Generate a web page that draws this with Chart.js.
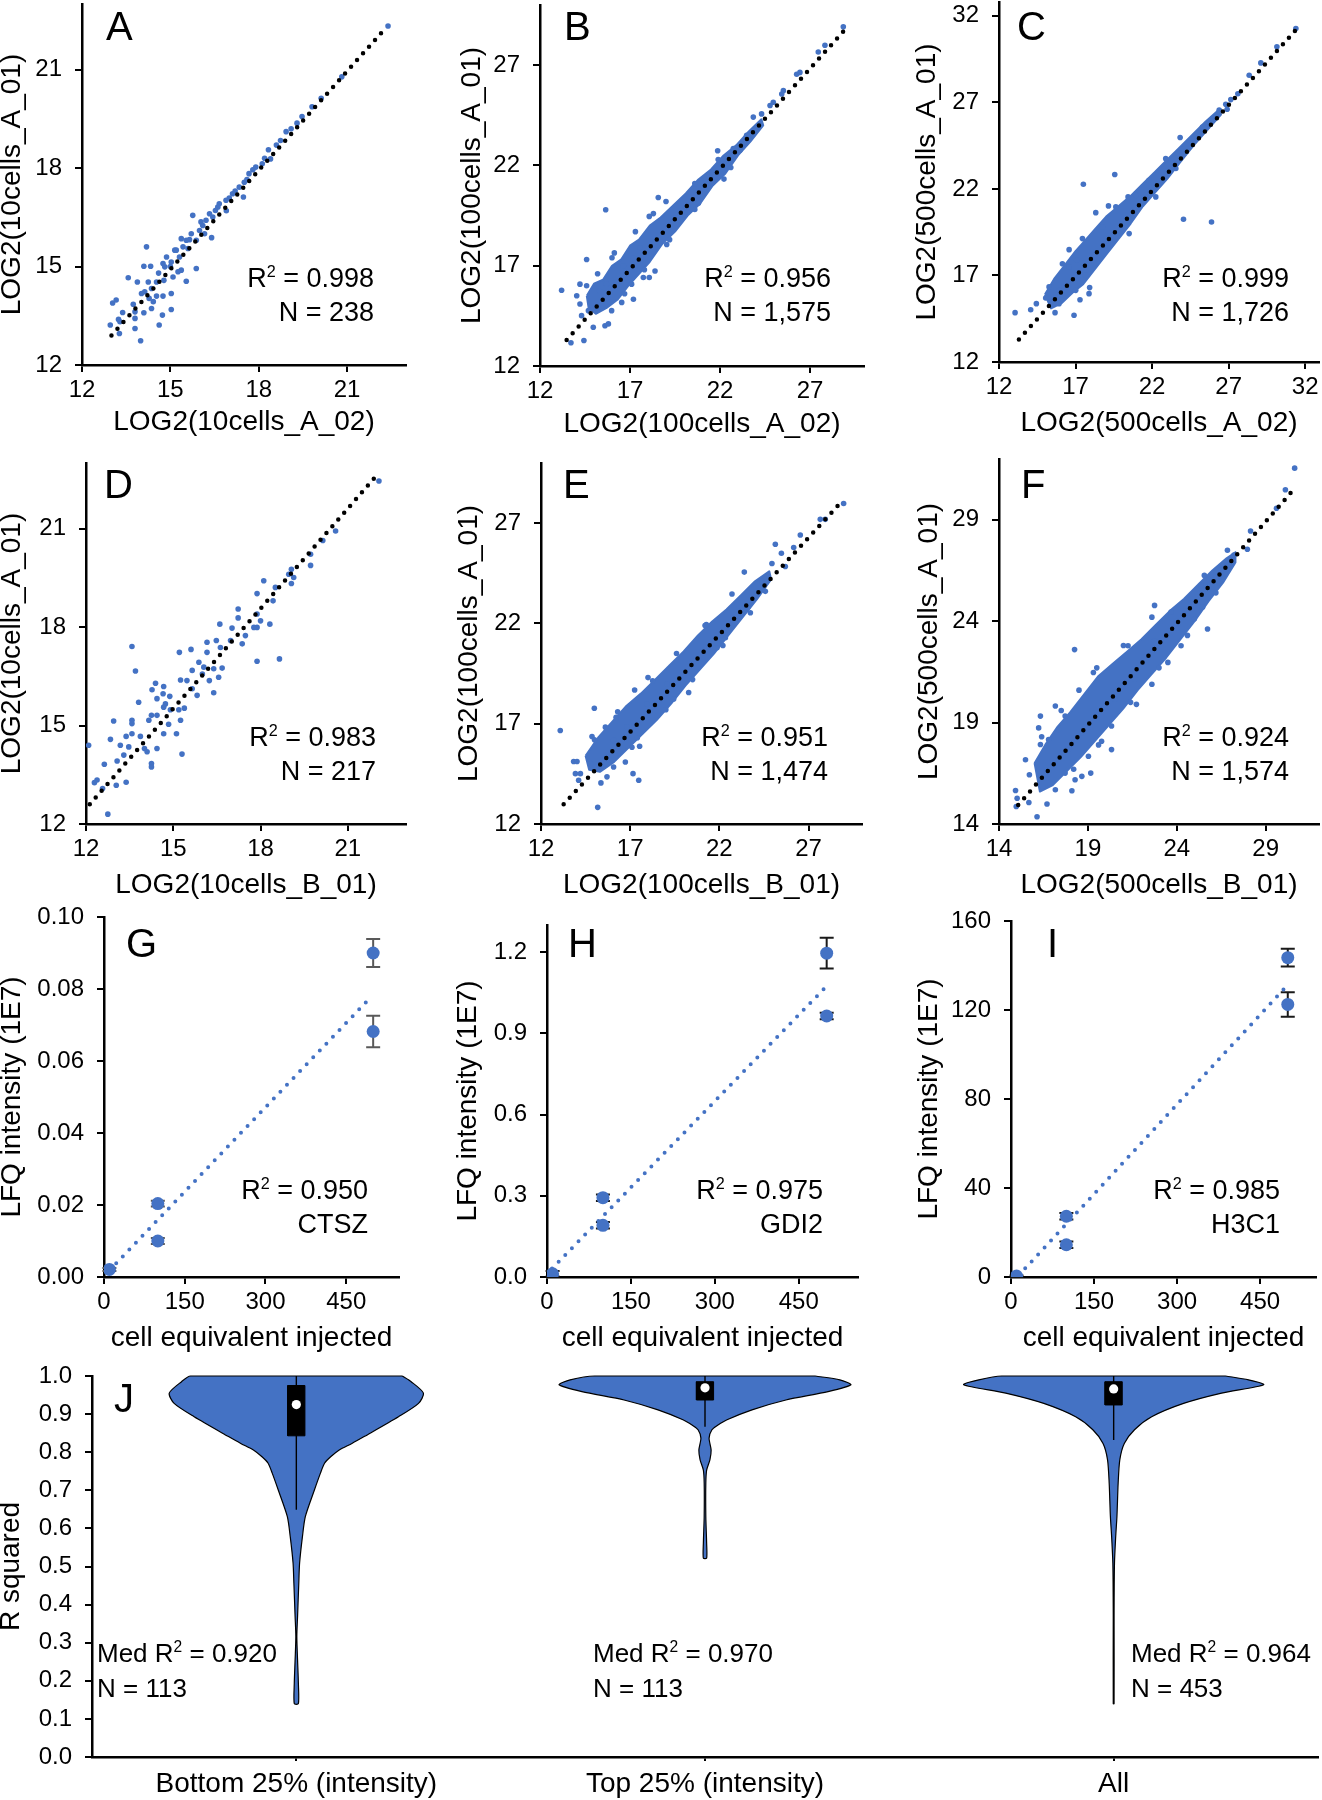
<!DOCTYPE html>
<html>
<head>
<meta charset="utf-8">
<script src="https://cdn.jsdelivr.net/npm/chart.js@4.4.0/dist/chart.umd.min.js"></script>
<style>
  html, body { margin: 0; padding: 0; background: #fff; }
  body { width: 1322px; height: 1800px; position: relative; overflow: hidden;
         font-family: "Liberation Sans", Arial, Helvetica, sans-serif; color: #000; }
  canvas { position: absolute; }
  .lbl { position: absolute; white-space: nowrap; line-height: 1; }
  .sup { font-size: 0.6em; position: relative; top: -0.62em; }
</style>
</head>
<body>
<script>
// ---- data: replicate scatter panels (log2 intensities) ----
const ticksA = [12, 15, 18, 21];
const ticksB = [12, 17, 22, 27];
const ticksC = [12, 17, 22, 27, 32];
const ticksF = [14, 19, 24, 29];

const ptsA = [[22.39,22.33],[20.82,20.78],[20.12,20.13],[19.81,19.87],[19.47,19.57],[19.30,19.37],[18.93,19.11],[18.74,18.84],[18.33,18.56],[18.40,18.28],[18.12,18.13],[17.90,18.03],[17.67,17.83],[17.51,17.57],[17.34,17.42],[17.48,17.12],[17.00,17.09],[16.66,16.91],[16.53,16.71],[16.44,16.51],[16.21,16.41],[15.76,16.56],[15.99,16.10],[16.16,16.00],[16.40,15.88],[15.88,15.80],[15.65,15.82],[15.43,15.60],[15.37,15.85],[15.15,15.50],[15.31,15.29],[15.88,14.94],[15.03,15.14],[14.81,14.99],[14.87,15.29],[14.75,15.09],[14.19,15.60],[14.10,15.01],[14.33,15.01],[15.37,14.89],[15.26,14.84],[15.54,14.55],[15.09,14.68],[14.53,14.53],[14.78,14.58],[14.25,14.53],[13.57,14.66],[13.88,14.53],[14.36,14.33],[14.13,14.23],[14.02,14.18],[14.53,14.10],[14.75,14.10],[15.03,14.18],[14.28,14.03],[14.42,13.93],[14.36,13.72],[14.10,13.59],[15.03,13.69],[14.73,13.52],[13.74,13.85],[13.80,13.62],[13.16,13.98],[13.04,13.89],[13.38,13.60],[13.24,13.39],[13.29,13.32],[13.80,13.42],[12.96,13.22],[13.80,13.11],[13.27,12.96],[14.62,13.22],[13.99,12.74],[17.11,17.22],[16.89,17.02],[16.61,16.81],[16.33,16.61],[16.04,16.36],[15.71,16.00],[15.54,15.80],[15.20,15.50],[17.80,17.95],[18.20,18.30],[17.20,17.30],[16.90,16.70],[16.10,16.25],[15.60,15.55],[15.00,15.00],[14.60,14.80],[18.60,18.70],[19.10,19.20],[17.60,17.65]];
const trendAx = [13.0, 22.3], trendAy = [12.9, 22.26];

const coreB = [[14.6,15.5],[15.0,16.1],[15.5,16.3],[16.0,17.0],[16.5,17.3],[17.0,18.0],[17.5,18.3],[18.1,19.0],[18.7,19.4],[19.4,20.0],[20.1,20.6],[20.8,21.3],[21.5,21.8],[22.2,22.5],[22.9,23.0],[23.6,23.7],[24.3,24.3],[24.4,24.0],[23.7,23.2],[23.0,22.5],[22.3,21.6],[21.6,21.0],[20.9,20.1],[20.2,19.5],[19.5,18.7],[18.8,18.1],[18.1,17.2],[17.5,16.6],[16.9,16.0],[16.3,15.3],[15.7,14.9],[15.1,14.6],[14.7,14.9]];
const ptsB = [[13.20,15.78],[15.65,19.79],[18.57,20.40],[21.87,22.73],[22.22,21.32],[18.07,19.46],[14.59,17.31],[16.13,17.64],[14.22,16.08],[14.59,16.00],[14.04,15.50],[14.22,15.09],[14.69,14.76],[14.96,13.93],[15.61,14.01],[15.80,14.10],[14.44,13.27],[13.72,13.16],[14.31,14.51],[15.15,14.92],[15.98,14.76],[16.54,15.17],[17.19,15.33],[17.09,16.08],[17.74,16.41],[18.07,16.41],[18.39,16.74],[19.04,18.06],[20.80,20.12],[21.54,21.11],[23.11,22.76],[23.85,24.41],[24.31,24.57],[24.78,24.99],[24.96,25.15],[25.43,25.56],[25.52,25.73],[26.26,26.55],[26.44,26.64],[27.46,27.66],[27.83,27.99],[28.85,28.91],[16.63,16.98],[17.19,17.40],[17.56,17.89],[19.41,19.38],[20.15,19.87],[22.56,22.35],[22.74,22.84],[23.48,23.50],[24.04,23.91],[15.30,15.75],[15.70,16.08],[15.2,16.6],[16.0,17.4],[17.3,18.7],[18.3,19.6],[19.0,20.2],[20.6,21.1],[16.7,15.6],[17.8,16.8],[19.2,18.3],[20.6,19.8],[15.9,15.2],[21.9,22.3],[22.6,21.9]];
const trendBx = [13.48, 29.07], trendBy = [13.3, 28.9];

const coreC = [[15.0,15.9],[15.6,16.8],[16.3,17.6],[17.0,18.4],[17.6,19.0],[18.3,19.7],[19.0,20.4],[19.8,21.0],[20.6,21.6],[21.4,22.3],[22.2,23.0],[23.0,23.7],[23.8,24.4],[24.6,25.1],[25.5,25.9],[26.4,26.6],[26.5,26.3],[25.6,25.4],[24.7,24.5],[23.8,23.5],[23.0,22.6],[22.2,21.8],[21.4,21.0],[20.6,20.0],[19.8,19.1],[19.0,18.2],[18.2,17.3],[17.5,16.5],[16.8,16.0],[16.1,15.4],[15.4,15.1]];
const ptsC = [[13.05,14.85],[16.90,14.70],[15.66,14.85],[14.44,15.37],[14.07,15.02],[15.05,15.70],[15.92,15.37],[17.29,15.60],[17.88,15.95],[17.92,16.30],[17.66,17.01],[17.01,16.14],[15.92,16.14],[16.25,16.34],[16.58,18.49],[17.45,19.13],[17.51,22.27],[19.56,22.83],[18.32,20.63],[19.15,21.02],[20.50,19.42],[20.43,21.54],[23.83,24.97],[24.05,20.25],[25.88,20.09],[22.89,23.75],[22.24,21.54],[23.55,23.18],[26.81,26.89],[27.14,27.16],[28.34,28.57],[29.10,29.28],[30.15,30.21],[31.39,31.27],[25.29,25.58],[25.94,26.07],[26.38,26.55],[16.58,17.49],[16.14,17.68],[17.08,17.88],[15.27,16.34],[18.75,19.80],[19.63,20.96],[20.93,21.63],[21.80,22.50],[27.6,27.5],[26.9,26.6]];
const trendCx = [13.3, 31.4], trendCy = [13.3, 31.2];

const ptsD = [[22.07,22.45],[20.58,20.93],[20.14,20.64],[19.72,20.22],[19.72,19.88],[19.06,19.76],[19.06,19.33],[19.14,19.51],[18.97,19.61],[18.11,19.41],[18.51,19.21],[18.43,18.80],[17.88,19.02],[18.32,18.09],[17.88,18.40],[18.00,18.19],[17.23,18.55],[17.23,18.28],[17.88,17.99],[17.77,17.99],[16.60,18.09],[17.02,17.97],[17.48,17.74],[17.37,17.49],[17.88,16.96],[18.65,17.03],[16.16,17.54],[16.48,17.59],[16.62,17.38],[16.97,17.59],[16.16,17.23],[15.61,17.32],[15.21,17.23],[13.58,17.41],[13.70,16.66],[15.88,16.93],[16.05,16.78],[16.39,16.73],[16.68,16.75],[15.65,16.68],[15.47,16.37],[15.25,16.39],[16.00,16.57],[16.24,16.37],[16.56,16.47],[15.82,15.92],[16.39,16.00],[15.65,16.12],[14.39,16.29],[14.67,16.19],[14.27,16.09],[14.44,15.82],[14.65,15.97],[14.88,15.89],[14.73,15.66],[14.67,15.56],[14.90,15.48],[15.19,15.48],[15.38,15.53],[15.25,15.16],[14.84,15.04],[15.11,14.75],[14.67,14.75],[14.16,15.16],[14.25,15.31],[14.44,15.31],[13.81,15.71],[13.58,15.16],[13.58,15.06],[12.95,15.14],[13.58,14.75],[13.38,14.67],[13.18,14.40],[12.84,14.58],[13.87,14.67],[14.01,14.30],[14.10,14.20],[14.44,14.30],[14.25,13.84],[14.25,13.74],[15.30,14.13],[13.47,14.35],[13.30,14.10],[13.07,13.92],[12.63,13.82],[12.09,14.40],[12.38,13.34],[12.29,13.26],[13.04,13.18],[13.38,13.27],[12.75,12.30],[12.57,13.08]];
const trendDx = [12.13, 22.07], trendDy = [12.6, 22.7];

const coreE = [[14.5,15.4],[15.2,16.3],[16.0,17.1],[16.8,17.9],[17.6,18.5],[18.4,19.2],[19.2,19.9],[20.0,20.6],[20.8,21.4],[21.6,22.1],[22.4,22.7],[23.2,23.4],[24.0,24.1],[24.8,24.6],[24.9,24.2],[24.1,23.2],[23.3,22.3],[22.5,21.4],[21.7,20.5],[20.9,19.7],[20.1,18.9],[19.3,18.0],[18.5,17.2],[17.7,16.5],[16.9,15.8],[16.1,15.1],[15.3,14.6],[14.7,14.7]];
const ptsE = [[13.08,16.66],[14.99,17.77],[13.83,15.12],[14.02,15.12],[13.93,14.51],[14.21,14.51],[14.11,14.18],[14.77,15.01],[15.18,12.83],[15.36,14.05],[15.70,14.35],[16.07,14.84],[16.73,15.09],[17.16,14.51],[17.48,14.18],[17.10,15.83],[17.53,15.88],[14.86,16.36],[15.61,16.83],[16.21,17.32],[17.25,18.68],[18.26,19.14],[19.44,18.23],[20.28,18.56],[21.27,21.95],[21.87,20.79],[22.34,21.29],[22.71,23.47],[23.40,24.56],[23.74,22.53],[24.58,23.60],[24.95,24.99],[25.14,25.95],[25.48,25.50],[26.17,25.79],[26.54,26.41],[27.66,27.19],[27.94,27.19],[28.97,27.98],[25.70,24.84],[24.39,24.10],[16.07,16.17],[16.82,16.83],[17.94,17.98],[19.07,18.98],[20.56,19.97],[21.68,20.79],[15.0,16.2],[16.3,17.6],[18.0,19.3],[19.6,20.5],[21.2,21.9],[17.4,16.3],[19.0,17.7],[20.5,19.2],[22.2,20.9],[23.6,22.8]];
const trendEx = [13.27, 28.88], trendEy = [12.98, 28.1];

const coreF = [[16.0,17.0],[16.6,17.9],[17.3,18.8],[18.0,19.5],[18.8,20.4],[19.6,21.3],[20.4,21.9],[21.2,22.5],[22.0,23.1],[22.8,23.8],[23.6,24.5],[24.4,25.1],[25.2,25.8],[26.0,26.5],[26.8,27.1],[27.3,27.4],[27.3,26.9],[26.6,25.9],[25.8,25.0],[25.0,24.0],[24.2,23.1],[23.4,22.2],[22.6,21.4],[21.8,20.6],[21.0,19.7],[20.2,18.9],[19.4,18.1],[18.6,17.3],[17.8,16.6],[17.0,15.9],[16.3,15.6]];
const ptsF = [[30.63,31.55],[30.11,30.48],[29.61,29.57],[28.15,28.45],[27.97,27.55],[27.22,27.26],[26.85,27.50],[26.38,26.10],[25.55,26.26],[25.45,24.69],[24.99,24.12],[24.24,22.79],[23.50,21.97],[22.75,23.04],[22.60,20.89],[21.73,19.90],[21.08,20.81],[20.33,17.67],[19.77,18.08],[19.03,17.34],[19.16,16.51],[18.66,16.35],[18.10,15.64],[18.25,22.60],[16.33,19.32],[16.23,18.74],[16.33,17.92],[15.49,17.17],[15.71,16.43],[14.93,15.65],[15.02,15.27],[14.97,14.86],[15.68,15.06],[16.14,14.36],[16.70,14.99],[17.17,15.69],[17.72,16.51],[18.28,16.18],[17.17,19.82],[17.72,19.32],[19.31,21.47],[21.26,22.79],[23.68,24.45],[25.73,23.62],[17.91,17.67],[18.66,18.50],[20.52,20.15],[21.64,21.14],[16.79,18.17],[17.35,18.66],[20.33,18.83],[22.75,24.78],[25.36,25.77],[17.07,16.84],[16.4,18.3],[17.5,19.6],[18.5,20.6],[19.5,21.7],[21.0,22.8],[22.6,24.2],[18.2,16.7],[19.6,17.9],[21.4,20.0],[23.0,21.7],[24.6,23.3],[26.2,25.4]];
const trendFx = [15.08, 30.72], trendFy = [14.94, 30.64];

// ---- data: LFQ intensity vs cell equivalents ----
const cellX = [10, 100, 100, 500, 500];
const ticksCellX = [0, 150, 300, 450];
const lfqG = [0.0021, 0.0204, 0.0100, 0.0900, 0.0682];
const errG = [0.0004, 0.0008, 0.0008, 0.0039, 0.0044];
const trendGx = [10.5, 498], trendGy = [0.0019, 0.0781];
const ticksG = [0, 0.02, 0.04, 0.06, 0.08, 0.10];
const lfqH = [0.012, 0.293, 0.191, 1.196, 0.964];
const errH = [0.01, 0.012, 0.012, 0.057, 0.012];
const trendHx = [9, 498], trendHy = [0.031, 1.07];
const ticksH = [0, 0.3, 0.6, 0.9, 1.2];
const lfqI = [0.4, 27.3, 14.5, 143.5, 122.5];
const errI = [0.3, 1.5, 1.5, 4.0, 5.5];
const trendIx = [14, 502], trendIy = [0.75, 131.8];
const ticksI = [0, 40, 80, 120, 160];

// ---- data: violin panel J ----
const violinCats = ['Bottom 25% (intensity)', 'Top 25% (intensity)', 'All'];
const violinY = [
  [1.0, 0.985, 0.955, 0.928, 0.893, 0.841, 0.823, 0.806, 0.788, 0.771, 0.745, 0.70, 0.631, 0.579, 0.509, 0.456, 0.369, 0.316, 0.255, 0.194, 0.14],
  [1.0, 0.99, 0.977, 0.959, 0.937, 0.911, 0.885, 0.87, 0.859, 0.837, 0.806, 0.78, 0.753, 0.719, 0.631, 0.561, 0.522],
  [1.0, 0.99, 0.977, 0.955, 0.928, 0.893, 0.859, 0.823, 0.78, 0.719, 0.631, 0.579, 0.509, 0.369, 0.14]
];
const violinHalfW = [
  [0.259, 0.281, 0.311, 0.299, 0.250, 0.166, 0.136, 0.105, 0.084, 0.069, 0.059, 0.044, 0.022, 0.015, 0.008, 0.006, 0.003, 0.0012, 0.003, 0.005, 0.005],
  [0.27, 0.33, 0.357, 0.301, 0.198, 0.115, 0.054, 0.03, 0.017, 0.010, 0.015, 0.012, 0.004, 0.002, 0.002, 0.004, 0.004],
  [0.274, 0.33, 0.367, 0.264, 0.171, 0.093, 0.051, 0.026, 0.015, 0.011, 0.008, 0.005, 0.002, 0.001, 0.001]
];
const boxQ1 = [0.843, 0.937, 0.924];
const boxQ3 = [0.975, 0.985, 0.985];
const medians = [0.925, 0.969, 0.966];
const whiskLow = [0.649, 0.867, 0.832];
const whiskHigh = [1.0, 1.0, 1.0];
const ticksJ = [0, 0.1, 0.2, 0.3, 0.4, 0.5, 0.6, 0.7, 0.8, 0.9, 1.0];

// ---- styling ----
const FONT = '"Liberation Sans", Arial, Helvetica, sans-serif';
const BLUE = '#4472C4';
const TITLE_SIZE = 28, TICK_SIZE = 24, TITLE_LH = TITLE_SIZE * 1.2;
const BOX_HALF = 0.021;

Chart.defaults.font.family = FONT;
Chart.defaults.color = '#000';

function linAxis(o) {
  return {
    type: 'linear', min: o.min, max: o.max,
    afterBuildTicks: s => { s.ticks = o.ticks.map(v => ({ value: v })); },
    afterFit: s => {
      if (s.isHorizontal()) s.height = o.size; else s.width = o.size;
      s.paddingLeft = s.paddingRight = s.paddingTop = s.paddingBottom = 0;
    },
    border: { display: true, color: '#000', width: 2.5 },
    grid: { drawOnChartArea: false, drawTicks: true, tickLength: o.tickLen || 7, color: '#000', lineWidth: 2 },
    ticks: {
      autoSkip: false, maxRotation: 0, minRotation: 0, padding: o.pad, color: '#000',
      font: { size: o.tickSize || TICK_SIZE, family: FONT },
      callback: v => o.fmt ? o.fmt(v) : String(v)
    },
    title: {
      display: !!o.title, text: o.title || '', color: '#000', padding: 0,
      font: { size: TITLE_SIZE, family: FONT, lineHeight: 1.2 }
    }
  };
}

const errorBars = {
  id: 'errorBars',
  beforeDatasetsDraw(chart) {
    const ctx = chart.ctx, xs = chart.scales.x, ys = chart.scales.y;
    chart.data.datasets.forEach(ds => {
      if (!ds.errors) return;
      ctx.save();
      ctx.strokeStyle = ds.errorColor;
      ctx.lineWidth = 2;
      ds.data.forEach((p, j) => {
        const e = ds.errors[j];
        const px = xs.getPixelForValue(p.x);
        const top = ys.getPixelForValue(p.y + e), bot = ys.getPixelForValue(p.y - e);
        ctx.beginPath();
        ctx.moveTo(px, top); ctx.lineTo(px, bot);
        ctx.moveTo(px - 7, top); ctx.lineTo(px + 7, top);
        ctx.moveTo(px - 7, bot); ctx.lineTo(px + 7, bot);
        ctx.stroke();
      });
      ctx.restore();
    });
  }
};

function makeChart(box, xAx, yAx, datasets, plugins) {
  const cl = Math.round(box.yTitleX - TITLE_LH / 2);
  const ct = box.t - 24, cr = box.r + 24;
  const cb = box.xTitleY ? Math.round(box.xTitleY + TITLE_LH / 2) : 1800;
  const cv = document.createElement('canvas');
  cv.width = cr - cl; cv.height = cb - ct;
  cv.style.left = cl + 'px'; cv.style.top = ct + 'px';
  cv.style.width = (cr - cl) + 'px'; cv.style.height = (cb - ct) + 'px';
  document.body.appendChild(cv);
  xAx.size = cb - box.b;
  yAx.size = box.l - cl;
  return new Chart(cv, {
    type: 'scatter',
    data: { datasets },
    options: {
      responsive: false, animation: false, devicePixelRatio: 1, events: [],
      layout: { padding: { left: 0, bottom: 0, top: box.t - ct, right: cr - box.r } },
      plugins: { legend: { display: false }, tooltip: { enabled: false } },
      scales: { x: linAxis(xAx), y: linAxis(yAx) }
    },
    plugins: plugins || []
  });
}

const xy = arr => arr.map(p => ({ x: p[0], y: p[1] }));
const zipXY = (xs, ys) => xs.map((x, i) => ({ x, y: ys[i] }));

function scatterSets(pts, core, tx, ty) {
  const sets = [
    { data: zipXY(tx, ty), showLine: true, pointRadius: 0, borderColor: '#000', borderWidth: 4.5,
      borderDash: [0, 9], borderCapStyle: 'round', order: 0 },
    { data: xy(pts), pointRadius: 2.8, backgroundColor: BLUE, borderWidth: 0, order: 1 }
  ];
  if (core) sets.push({
    data: xy(core.concat([core[0]])), showLine: true, fill: 'shape', backgroundColor: BLUE,
    borderColor: BLUE, borderWidth: 2, borderJoinStyle: 'round', pointRadius: 0, order: 2
  });
  return sets;
}

function lfqSets(vals, errs, tx, ty, errColor) {
  return [
    { data: zipXY(cellX, vals), errors: errs, errorColor: errColor, pointRadius: 6.5,
      backgroundColor: BLUE, borderWidth: 0, order: 0 },
    { data: zipXY(tx, ty), showLine: true, pointRadius: 0, borderColor: BLUE, borderWidth: 4,
      borderDash: [0, 9.5], borderCapStyle: 'round', order: 1 }
  ];
}

const yPad = 13, xPad = 4;

// A-F
const scatterPanels = [
  { box: { l: 82, t: 4, r: 406, b: 365, yTitleX: 12, xTitleY: 422 }, x: [12, 23, ticksA, 'LOG2(10cells_A_02)'], y: [12, 23, ticksA, 'LOG2(10cells_A_01)'], sets: scatterSets(ptsA, null, trendAx, trendAy) },
  { box: { l: 540, t: 5, r: 864, b: 366, yTitleX: 472, xTitleY: 424 }, x: [12, 30, ticksB, 'LOG2(100cells_A_02)'], y: [12, 30, ticksB, 'LOG2(100cells_A_01)'], sets: scatterSets(ptsB, coreB, trendBx, trendBy) },
  { box: { l: 999, t: 2, r: 1319, b: 362, yTitleX: 927, xTitleY: 423 }, x: [12, 32.9, ticksC, 'LOG2(500cells_A_02)'], y: [12, 32.8, ticksC, 'LOG2(500cells_A_01)'], sets: scatterSets(ptsC, coreC, trendCx, trendCy) },
  { box: { l: 86, t: 463, r: 406, b: 824, yTitleX: 12, xTitleY: 885 }, x: [12, 23, ticksA, 'LOG2(10cells_B_01)'], y: [12, 23, ticksA, 'LOG2(10cells_A_01)'], sets: scatterSets(ptsD, null, trendDx, trendDy) },
  { box: { l: 541, t: 463, r: 862, b: 824, yTitleX: 469, xTitleY: 885 }, x: [12, 30, ticksB, 'LOG2(100cells_B_01)'], y: [12, 30, ticksB, 'LOG2(100cells_A_01)'], sets: scatterSets(ptsE, coreE, trendEx, trendEy) },
  { box: { l: 999, t: 459, r: 1319, b: 824, yTitleX: 929, xTitleY: 885 }, x: [14, 32, ticksF, 'LOG2(500cells_B_01)'], y: [14, 32, ticksF, 'LOG2(500cells_A_01)'], sets: scatterSets(ptsF, coreF, trendFx, trendFy) }
];
scatterPanels.forEach(p => {
  makeChart(p.box,
    { min: p.x[0], max: p.x[1], ticks: p.x[2], title: p.x[3], pad: xPad },
    { min: p.y[0], max: p.y[1], ticks: p.y[2], title: p.y[3], pad: yPad },
    p.sets);
});

// G-I
const cellTitle = 'cell equivalent injected', lfqTitle = 'LFQ intensity (1E7)';
makeChart({ l: 104, t: 917, r: 399, b: 1277, yTitleX: 12, xTitleY: 1338 },
  { min: 0, max: 548, ticks: ticksCellX, title: cellTitle, pad: xPad },
  { min: 0, max: 0.1, ticks: ticksG, title: lfqTitle, pad: yPad, fmt: v => v.toFixed(2) },
  lfqSets(lfqG, errG, trendGx, trendGy, '#595959'), [errorBars]);
makeChart({ l: 547, t: 925, r: 858, b: 1277, yTitleX: 468, xTitleY: 1338 },
  { min: 0, max: 556, ticks: ticksCellX, title: cellTitle, pad: xPad },
  { min: 0, max: 1.3, ticks: ticksH, title: lfqTitle, pad: yPad, fmt: v => v.toFixed(1) },
  lfqSets(lfqH, errH, trendHx, trendHy, '#1a1a1a'), [errorBars]);
makeChart({ l: 1011, t: 921, r: 1316, b: 1277, yTitleX: 929, xTitleY: 1338 },
  { min: 0, max: 551, ticks: ticksCellX, title: cellTitle, pad: xPad },
  { min: 0, max: 160, ticks: ticksI, title: lfqTitle, pad: yPad },
  lfqSets(lfqI, errI, trendIx, trendIy, '#1a1a1a'), [errorBars]);

// J violins
const jSets = [];
violinCats.forEach((c, k) => {
  const cx = k + 0.5;
  const ys = violinY[k], ws = violinHalfW[k];
  const right = ys.map((y, i) => ({ x: cx + ws[i], y }));
  const left = ys.map((y, i) => ({ x: cx - ws[i], y })).reverse();
  jSets.push({ data: right.concat(left, [right[0]]), showLine: true, fill: 'shape', tension: 0.25,
    backgroundColor: BLUE, borderColor: '#000', borderWidth: 1.2, pointRadius: 0, clip: false, order: 3 });
  jSets.push({ data: [{ x: cx, y: whiskLow[k] }, { x: cx, y: whiskHigh[k] }], showLine: true,
    borderColor: '#000', borderWidth: 1.4, pointRadius: 0, order: 2 });
  jSets.push({ data: [{ x: cx - BOX_HALF, y: boxQ1[k] }, { x: cx + BOX_HALF, y: boxQ1[k] }, { x: cx + BOX_HALF, y: boxQ3[k] },
    { x: cx - BOX_HALF, y: boxQ3[k] }, { x: cx - BOX_HALF, y: boxQ1[k] }], showLine: true, fill: 'shape',
    backgroundColor: '#000', borderColor: '#000', borderWidth: 1, pointRadius: 0, order: 1 });
});
jSets.push({ data: medians.map((m, k) => ({ x: k + 0.5, y: m })), pointRadius: 4.6,
  backgroundColor: '#fff', borderWidth: 0, order: 0 });
makeChart({ l: 92, t: 1376, r: 1318, b: 1757, yTitleX: 10.5 },
  { min: 0, max: 3, ticks: [0.5, 1.5, 2.5], pad: 6, tickLen: 4, tickSize: 28, fmt: v => violinCats[Math.round(v - 0.5)] },
  { min: 0, max: 1, ticks: ticksJ, title: 'R squared', pad: yPad, fmt: v => v.toFixed(1) },
  jSets);

// ---- text annotations ----
function text(html, x, baseline, size, align) {
  const d = document.createElement('div');
  d.className = 'lbl';
  d.style.fontSize = size + 'px';
  d.style.top = (baseline - 0.8465 * size) + 'px';
  if (align === 'right') d.style.right = (1322 - x) + 'px'; else d.style.left = x + 'px';
  d.innerHTML = html;
  document.body.appendChild(d);
}
const R2 = 'R<span class="sup">2</span>';
[['A', 106, 40], ['B', 564, 40], ['C', 1017, 40], ['D', 104, 498], ['E', 563, 498], ['F', 1021, 498],
 ['G', 126, 957], ['H', 568, 957], ['I', 1047, 957], ['J', 114, 1412]].forEach(l => text(l[0], l[1], l[2], 40));
[[R2 + ' = 0.998', 'N = 238', 374, 288], [R2 + ' = 0.956', 'N = 1,575', 831, 288], [R2 + ' = 0.999', 'N = 1,726', 1289, 288],
 [R2 + ' = 0.983', 'N = 217', 376, 747], [R2 + ' = 0.951', 'N = 1,474', 828, 747], [R2 + ' = 0.924', 'N = 1,574', 1289, 747],
 [R2 + ' = 0.950', 'CTSZ', 368, 1200], [R2 + ' = 0.975', 'GDI2', 823, 1200], [R2 + ' = 0.985', 'H3C1', 1280, 1200]]
  .forEach(s => { text(s[0], s[2], s[3], 27, 'right'); text(s[1], s[2], s[3] + 34, 27, 'right'); });
[['0.920', 'N = 113', 97], ['0.970', 'N = 113', 593], ['0.964', 'N = 453', 1131]]
  .forEach(s => { text('Med ' + R2 + ' = ' + s[0], s[2], 1662, 26); text(s[1], s[2], 1697, 26); });
</script>
</body>
</html>
